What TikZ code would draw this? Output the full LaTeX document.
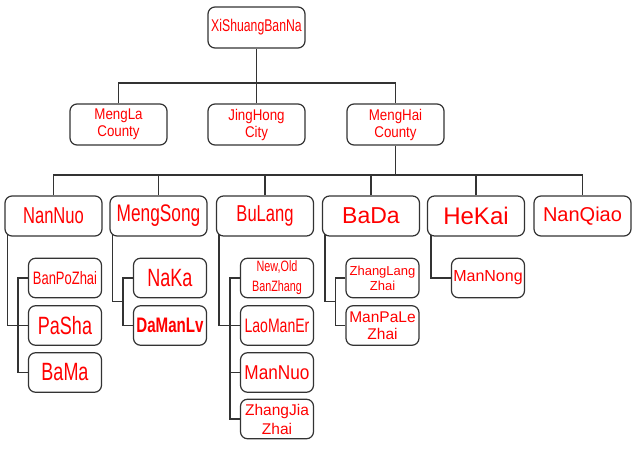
\documentclass[tikz,border=0pt]{standalone}
\usepackage{fontspec}
\setmainfont{Liberation Sans}
\newfontfamily\fnar[FakeStretch=0.72]{Liberation Sans}
\newfontfamily\fmid[FakeStretch=0.86]{Liberation Sans}
\usetikzlibrary{calc}
\definecolor{txt}{RGB}{255,0,0}
\definecolor{ln}{RGB}{51,51,51}
\newcommand\fs[2]{\fontsize{#1}{#2}\selectfont}
\pgfdeclarelayer{bg}
\pgfdeclarelayer{conns}
\pgfsetlayers{bg,conns,main}
\begin{document}
\begin{tikzpicture}[x=1pt,y=-1pt,
 box/.style={draw=ln, line width=1.2pt, rounded corners=7pt, fill=white, text=txt, align=center, inner sep=0pt, minimum width=97pt, minimum height=40pt},
 kid/.style={box, minimum width=73pt, minimum height=39.5pt},
 conn/.style={draw=ln, line width=1.2pt}]
\begin{pgfonlayer}{bg}
\fill[white] (0,0) rectangle (639,449);
\end{pgfonlayer}
\useasboundingbox (0,0) rectangle (639,449);
% level 1
\node[box, minimum height=41pt, font={\fnar\fs{17}{19}}] (xs) at (256.5,27.5) {XiShuangBanNa};
% level 2
\node[box, minimum height=41pt, font={\fmid\fs{15.5}{17}}] (ml) at (118.5,124.5) {MengLa\\County};
\node[box, minimum height=41pt, font={\fmid\fs{15.5}{17}}] (jh) at (256.5,124.5) {JingHong\\City};
\node[box, minimum height=41pt, font={\fmid\fs{15.5}{17}}] (mh) at (395.5,124.5) {MengHai\\County};
% level 3
\node[box, font={\fnar\fs{23}{25}}] (nn) at (53.5,216) {NanNuo};
\node[box, font={\fnar\fs{24}{26}}] (ms) at (158.5,216) {MengSong};
\node[box, font={\fnar\fs{23}{25}}] (bl) at (265,216) {BuLang};
\node[box, font={\fs{23}{25}}] (bd) at (371,216) {BaDa};
\node[box, font={\fs{24}{26}}] (hk) at (476,216) {HeKai};
\node[box, font={\fs{20}{22}}] (nq) at (582.5,216) {NanQiao};
% level 4 - NanNuo
\node[kid, font={\fnar\fs{18}{20}}] (bp) at (65,278) {BanPoZhai};
\node[kid, font={\fnar\fs{25}{27}}] (ps) at (65,325.5) {PaSha};
\node[kid, font={\fnar\fs{25}{27}}] (bm) at (65,372.5) {BaMa};
% MengSong
\node[kid, font={\fnar\fs{25}{27}}] (nk) at (170,278) {NaKa};
\node[kid, font={\fnar\bfseries\fs{21}{23}}] (dm) at (170,325.5) {DaManLv};
% BuLang
\node[kid, font={\fnar\fs{15}{20}}] (nb) at (277,278) {New,Old\\BanZhang};
\node[kid, font={\fnar\fs{19.5}{21}}] (lm) at (277,325.5) {LaoManEr};
\node[kid, font={\fmid\fs{20}{22}}] (mn) at (277,372.5) {ManNuo};
\node[kid, font={\fs{15.5}{19}}] (zj) at (277,419) {ZhangJia\\Zhai};
% BaDa
\node[kid, font={\fs{13}{15}}] (zl) at (382.5,278) {ZhangLang\\Zhai};
\node[kid, font={\fs{15.5}{17}}] (mp) at (382.5,325.5) {ManPaLe\\Zhai};
% HeKai
\node[kid, font={\fs{16}{18}}] (mg) at (488,278) {ManNong};
% connectors
\coordinate (b1) at (0,83);
\coordinate (b2) at (0,175);
\begin{pgfonlayer}{conns}
\draw[conn] (xs.south) -- (xs.south |- b1);
\draw[conn] (ml.north) -- (ml.north |- b1) -- (mh.north |- b1) -- (mh.north);
\draw[conn] (jh.north) -- (jh.north |- b1);
\draw[conn] (mh.south) -- (mh.south |- b2);
\draw[conn] (nn.north) -- (nn.north |- b2) -- (nq.north |- b2) -- (nq.north);
\draw[conn] (ms.north) -- (ms.north |- b2);
\draw[conn] (bl.north) -- (bl.north |- b2);
\draw[conn] (bd.north) -- (bd.north |- b2);
\draw[conn] (hk.north) -- (hk.north |- b2);
% NanNuo
\draw[conn] ([xshift=3pt,yshift=3pt]nn.south west) |- (ps.west);
\draw[conn] (bp.west) -- ++(-10,0) |- (bm.west);
% MengSong
\draw[conn] ([xshift=3pt,yshift=3pt]ms.south west) |- ($(nk.west)!0.5!(dm.west)+(-10,0)$);
\draw[conn] (nk.west) -- ++(-10,0) |- (dm.west);
% BuLang
\draw[conn] ([xshift=3pt,yshift=3pt]bl.south west) |- (lm.west);
\draw[conn] (nb.west) -- ++(-10,0) |- (zj.west);
\draw[conn] (mn.west) -- ++(-10,0);
% BaDa
\draw[conn] ([xshift=3pt,yshift=3pt]bd.south west) |- ($(zl.west)!0.5!(mp.west)+(-10,0)$);
\draw[conn] (zl.west) -- ++(-10,0) |- (mp.west);
% HeKai
\draw[conn] ([xshift=4pt,yshift=3pt]hk.south west) |- (mg.west);
\end{pgfonlayer}
\end{tikzpicture}
\end{document}
